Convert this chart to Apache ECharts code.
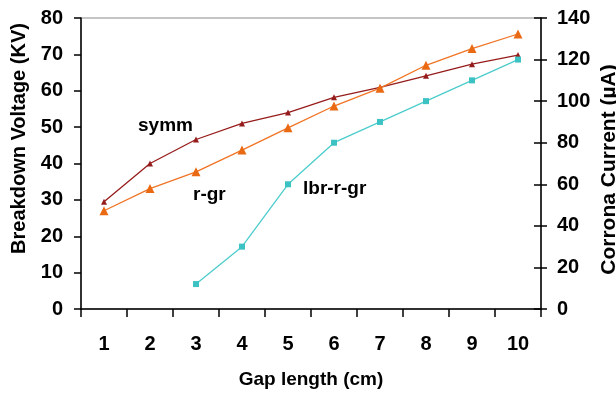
<!DOCTYPE html>
<html>
<head>
<meta charset="utf-8">
<script src="https://cdn.jsdelivr.net/npm/echarts@6/dist/echarts.min.js"></script>
<style>
html,body{margin:0;padding:0;background:#fff;}
#c{width:616px;height:399px;}
</style>
</head>
<body>
<div id="c"></div>
<script>
const categories = ['1','2','3','4','5','6','7','8','9','10'];
const symm = [29.5, 40.0, 46.6, 51.0, 54.0, 58.2, 60.9, 64.1, 67.3, 69.8];
const rgr = [27.0, 33.1, 37.7, 43.7, 49.8, 55.8, 60.7, 67.0, 71.6, 75.6];
const lbrrgr = [null, null, 12, 30, 60, 80, 90, 100, 110, 120];
const leftTicks = {min: 0, max: 80, interval: 10};
const rightTicks = {min: 0, max: 140, interval: 20};

const FONT = '"Liberation Sans", Arial, sans-serif';
const chart = echarts.init(document.getElementById('c'));
chart.setOption({
  animation: false,
  backgroundColor: '#fff',
  grid: {left: 81, right: 75, top: 18, bottom: 90, containLabel: false, outerBoundsMode: 'none',
         show: true, borderColor: '#8a8a8a', borderWidth: 1},
  xAxis: {
    type: 'category', data: categories, boundaryGap: true,
    name: 'Gap length (cm)', nameLocation: 'middle', nameGap: 61,
    nameTextStyle: {fontFamily: FONT, fontWeight: 'bold', fontSize: 19, color: '#000'},
    axisLine: {lineStyle: {color: '#000', width: 1.5}},
    axisTick: {show: true, length: 8, alignWithLabel: false, lineStyle: {color: '#000', width: 1.5}},
    axisLabel: {margin: 25, fontFamily: FONT, fontWeight: 'bold', fontSize: 20, color: '#000'},
    splitLine: {show: false}
  },
  yAxis: [
    {
      type: 'value', position: 'left', min: leftTicks.min, max: leftTicks.max, interval: leftTicks.interval,
      name: 'Breakdown Voltage (KV)', nameLocation: 'middle', nameGap: 52, nameRotate: 90,
      nameTextStyle: {fontFamily: FONT, fontWeight: 'bold', fontSize: 20, color: '#000', padding: [0, 0, 0, 50]},
      axisLine: {show: true, lineStyle: {color: '#000', width: 1.5}},
      axisTick: {show: true, length: 7, lineStyle: {color: '#000', width: 1.5}},
      axisLabel: {margin: 18, fontFamily: FONT, fontWeight: 'bold', fontSize: 20, color: '#000'},
      splitLine: {show: false}
    },
    {
      type: 'value', position: 'right', min: rightTicks.min, max: rightTicks.max, interval: rightTicks.interval,
      name: 'Corrona Current (µA)', nameLocation: 'middle', nameGap: 58, nameRotate: 90,
      nameMoveOverlap: false,
      nameTextStyle: {fontFamily: FONT, fontWeight: 'bold', fontSize: 21, color: '#000', padding: [0, 12, 0, 0]},
      axisLine: {show: true, lineStyle: {color: '#000', width: 1.5}},
      axisTick: {show: true, length: 6, lineStyle: {color: '#000', width: 1.5}},
      axisLabel: {margin: 16, fontFamily: FONT, fontWeight: 'bold', fontSize: 20, color: '#000'},
      splitLine: {show: false}
    },
    {
      type: 'value', position: 'right', min: rightTicks.min, max: rightTicks.max, interval: rightTicks.interval,
      axisLine: {show: false},
      axisTick: {show: true, inside: true, length: 7, lineStyle: {color: '#000', width: 1.5}},
      axisLabel: {show: false},
      splitLine: {show: false}
    }
  ],
  series: [
    {
      name: 'symm', type: 'line', yAxisIndex: 0, data: symm,
      symbol: 'triangle', symbolSize: 6,
      lineStyle: {color: '#961c1c', width: 1.3},
      itemStyle: {color: '#961c1c'}
    },
    {
      name: 'r-gr', type: 'line', yAxisIndex: 0, data: rgr,
      symbol: 'triangle', symbolSize: 9,
      lineStyle: {color: '#f07424', width: 1.3},
      itemStyle: {color: '#ea6a14'}
    },
    {
      name: 'lbr-r-gr', type: 'line', yAxisIndex: 1, data: lbrrgr,
      symbol: 'rect', symbolSize: 6,
      lineStyle: {color: '#4ccccc', width: 1.3},
      itemStyle: {color: '#3cc2c2'}
    }
  ],
  graphic: [
    {type: 'text', left: 138, top: 116, style: {text: 'symm', fontFamily: FONT, fontWeight: 'bold', fontSize: 19, fill: '#000'}},
    {type: 'text', left: 193, top: 185, style: {text: 'r-gr', fontFamily: FONT, fontWeight: 'bold', fontSize: 19, fill: '#000'}},
    {type: 'text', left: 303, top: 179, style: {text: 'lbr-r-gr', fontFamily: FONT, fontWeight: 'bold', fontSize: 19, fill: '#000'}}
  ]
});
</script>
</body>
</html>
